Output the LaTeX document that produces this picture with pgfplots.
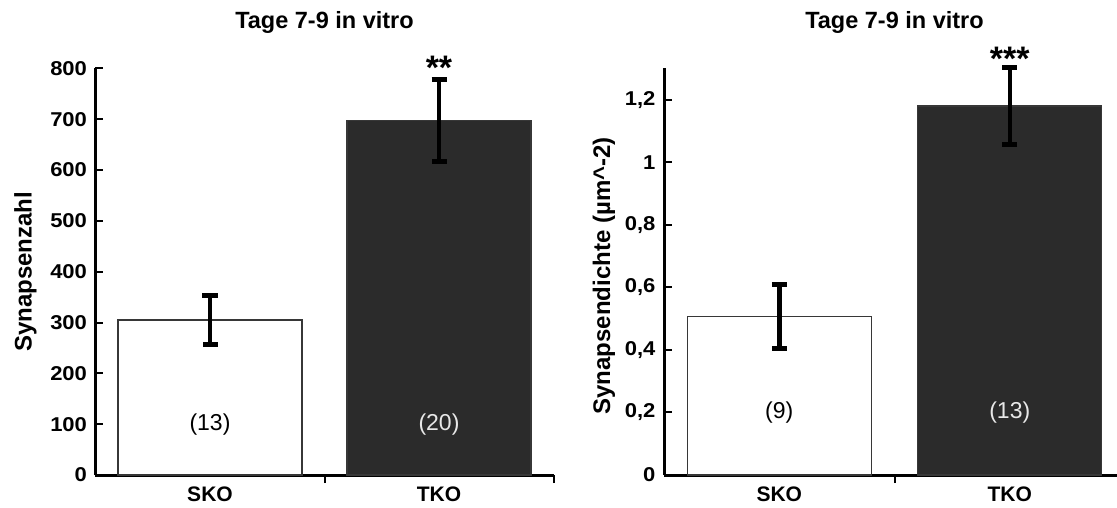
\documentclass[border=0pt]{standalone}
\usepackage{fontspec}
\setmainfont{Liberation Sans}
\usepackage{graphicx}
\usepackage{pgfplots}
\pgfplotsset{compat=1.18}
\newcommand\sx[1]{\scalebox{1.1}[1]{#1}}
\definecolor{darkbar}{RGB}{43,43,43}
\definecolor{barline}{RGB}{55,55,55}
\definecolor{lighttext}{RGB}{232,232,232}
\pgfplotsset{
  myaxis/.style={
    scale only axis, height=406.6pt,
    xmin=-0.5, xmax=1.5, ymin=0,
    axis x line=bottom, axis y line=left,
    axis line style={-, line width=3pt},
    tick align=inside,
    major tick length=8pt,
    tick style={line width=2pt, black},
    xtick={0.5,1.5}, xticklabels={},
    extra x ticks={0,1}, extra x tick labels={SKO,TKO},
    extra x tick style={major tick length=0pt, tick style={draw=none}},
    xticklabel style={font=\bfseries\fontsize{21}{25}\selectfont, anchor=base, yshift=-26.7pt},
    yticklabel style={font=\bfseries\fontsize{20}{24}\selectfont, xshift=-5pt},
    /pgf/number format/assume math mode=true,
    ylabel style={font=\bfseries\fontsize{24}{28}\selectfont, anchor=base},
    title style={font=\bfseries\fontsize{23.5}{27}\selectfont, at={(axis description cs:0.5,1)}, anchor=base, yshift=34pt},
    title={Tage 7-9 in vitro},
    clip=false,
    ybar, bar width=184pt, bar shift=0pt,
    error bars/y dir=both, error bars/y explicit,
    error bars/error bar style={line width=4.5pt, black},
    error bars/error mark options={rotate=90, mark size=7.5pt, line width=5pt, black},
  },
}
\tikzset{
  countlabel/.style={font=\fontsize{23}{27}\selectfont},
  starlabel/.style={font=\bfseries\fontsize{34}{38}\selectfont, anchor=base},
}
\begin{document}
\begin{tikzpicture}
\useasboundingbox (0,0) rectangle (1117pt,507pt);
% left panel
\begin{axis}[myaxis,
  at={(95.5pt,32pt)}, anchor=south west, width=458pt,
  ymax=800, ytick={0,100,200,300,400,500,600,700,800},
  yticklabels={\sx{0},\sx{100},\sx{200},\sx{300},\sx{400},\sx{500},\sx{600},\sx{700},\sx{800}},
  ylabel={Synapsenzahl},
  ylabel style={at={(axis description cs:-0.1397,0.5)}},
]
\addplot[fill=white, draw=barline, line width=1.2pt] coordinates {(0,305) +- (0,48)};
\addplot[fill=darkbar, draw=barline, line width=1.2pt] coordinates {(1,698) +- (0,81)};
\node[countlabel] at (axis cs:0,100) {(13)};
\node[countlabel, text=lighttext] at (axis cs:1,100) {(20)};
\node[starlabel] at (axis cs:1,779) {**};
\end{axis}
% right panel
\begin{axis}[myaxis,
  at={(664pt,32pt)}, anchor=south west, width=461pt,
  ymax=1.3, ytick={0,0.2,0.4,0.6,0.8,1,1.2},
  yticklabels={\sx{0},\sx{0,2},\sx{0,4},\sx{0,6},\sx{0,8},\sx{1},\sx{1,2}},
  ylabel={Synapsendichte (µm\textasciicircum-2)},
  ylabel style={at={(axis description cs:-0.117,0.49)}},
]
\addplot[fill=white, draw=barline, line width=1.2pt] coordinates {(0,0.507) +- (0,0.103)};
\addplot[fill=darkbar, draw=barline, line width=1.2pt] coordinates {(1,1.18) +- (0,0.122)};
\node[countlabel] at (axis cs:0,0.2) {(9)};
\node[countlabel, text=lighttext] at (axis cs:1,0.2) {(13)};
\node[starlabel] at (axis cs:1,1.292) {***};
\end{axis}
\end{tikzpicture}
\end{document}
